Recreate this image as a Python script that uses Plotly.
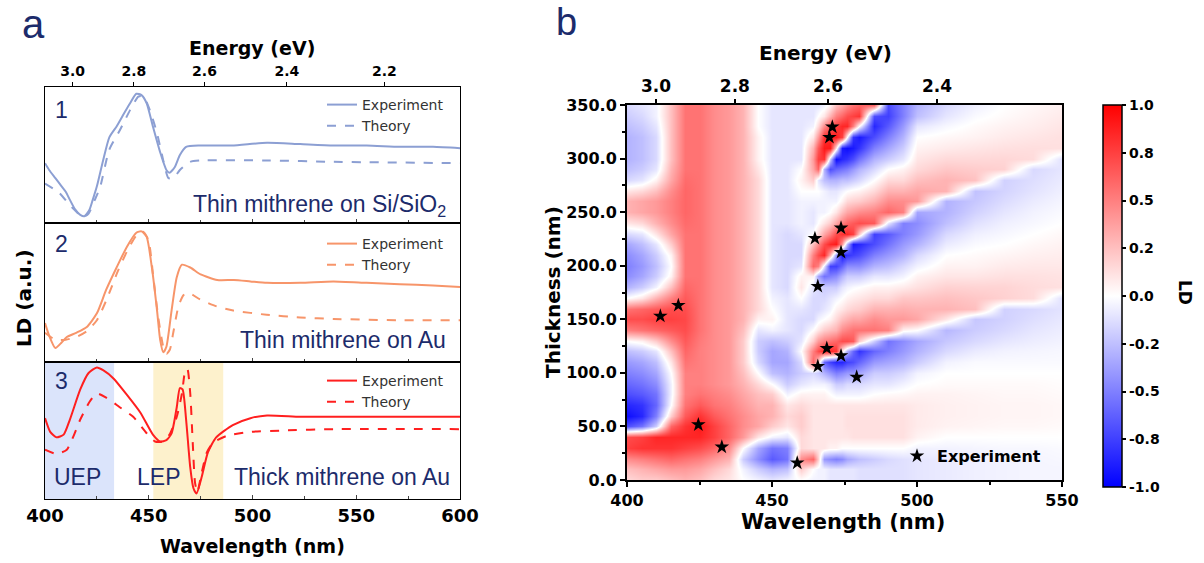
import plotly.graph_objects as go

W, H = 1204, 563
def fx(px):
    return px / W
def fy(py):
    return 1 - py / H

NAVY = '#1c2b6b'
C1, C2, C3 = '#8c9fd3', '#f7956a', '#ff1f1f'

# ---------------- Panel a data (LD in arbitrary units, 0-100 per panel) ----------------
wl_exp1 = [400, 402, 405, 408, 410, 412, 414.5, 417, 419, 421.5, 423, 425, 428, 431, 434.5, 437.5, 441, 444,
           446.5, 449, 452, 455.5, 458.5, 460, 462.5, 465, 468, 475, 490, 507, 523, 539, 555, 571, 587, 600]
ld_exp1 = [44, 39, 33, 27, 23, 17, 10, 6, 5, 10, 17, 27, 46, 63, 71, 79, 88, 95, 94, 88, 71, 52, 39, 37, 41, 50,
           56, 57, 57, 59, 58, 57, 57, 56, 56, 55]
wl_th1 = [400, 407, 412, 416, 418, 421, 424, 426.5, 431, 436, 441, 445, 447.5, 450.5, 454, 457, 459.5, 462, 465,
          470, 475, 507, 539, 600]
ld_th1 = [29, 22, 13, 7, 4, 7, 17, 26, 54, 68, 83, 93, 93, 83, 66, 46, 33, 33, 39, 45, 46, 46, 45, 44]

wl_exp2 = [400, 402, 405, 408, 410.5, 415, 420, 425, 429.5, 434.5, 439.5, 444, 446.5, 449, 451.5, 454, 455.5, 457,
           458.5, 461, 463.5, 466, 470, 475, 483, 491, 499, 507, 523, 539, 555, 571, 587, 600]
ld_exp2 = [28, 19, 10, 14, 18, 21, 25, 35, 52, 68, 83, 93, 94, 90, 68, 37, 16, 7, 11, 37, 61, 70, 68, 63, 59, 59,
           58, 57, 57, 58, 57, 56, 55, 54]
wl_th2 = [400, 405, 410, 415, 420, 425, 430, 435, 440, 444, 447, 449.8, 452.2, 454.6, 457, 458.6, 460.2, 461.8,
          464.3, 466.7, 469, 474.7, 482.7, 490.7, 506.8, 522.9, 539, 571, 600]
ld_th2 = [21, 16, 16, 18, 22, 30, 46, 65, 81, 91, 94, 88, 61, 32, 11, 6, 9, 21, 40, 48, 50, 45, 40, 37, 34, 32,
          31, 30, 30]

wl_exp3 = [400, 402.5, 405.5, 409, 412, 417, 421, 425, 428, 433, 439.5, 446, 452, 455.5, 458.5, 461, 463.5, 465,
           466.3, 468, 470, 471.5, 473, 475.5, 478.5, 482.5, 490.5, 499, 507, 523, 539, 555, 571, 600]
ld_exp3 = [59, 49, 45, 47, 58, 80, 92, 96, 94, 88, 76, 63, 47, 42, 43, 48, 67, 81, 80, 58, 23, 8, 4, 16, 34, 45,
           54, 59, 61, 60, 60, 60, 60, 60]
wl_th3 = [400, 405.5, 410.5, 417, 421.5, 425, 429.5, 436, 442.5, 449, 453, 457, 460, 463.5, 466, 467.5, 468.6,
          470, 471.2, 472.3, 473.4, 475.5, 478, 481, 487.5, 499, 515, 539, 600]
ld_th3 = [36, 33, 36, 58, 71, 77, 74, 67, 60, 48, 42, 42, 47, 60, 77, 93, 95, 77, 41, 12, 5, 19, 34, 41, 46, 49,
          50, 51, 51]

uep_band = [400, 433.3]
lep_band = [452.2, 485.9]

energy_ticks_a = [3.0, 2.8, 2.6, 2.4, 2.2]

# ---------------- Panel b data ----------------
map_wl = [400, 405, 410, 415, 420, 425, 430, 435, 440, 445, 450, 455, 460, 464, 466, 468, 470, 472, 474, 476,
          478, 480, 485, 490, 495, 500, 510, 520, 530, 540, 550]
map_t = list(range(0, 351, 10))
# LD x100, one list per wavelength column, thickness 0..350 step 10
ld_map = [
    [15, 25, 45, 75, 70, -70, -95, -85, -70, -60, -50, -40, -25, 0, 50, 70, 55, 0, -30, -45, -50, -45, -35, -15, 10, 30, 30, 10, -15, -25, -30, -30, -30, -25, -20, -15],
    [20, 30, 50, 80, 75, -55, -85, -80, -65, -55, -45, -35, -20, 5, 55, 70, 60, 10, -20, -35, -40, -35, -25, -10, 15, 35, 35, 15, -10, -20, -25, -25, -25, -20, -15, -10],
    [20, 35, 55, 80, 85, -20, -50, -60, -55, -45, -35, -25, -10, 20, 60, 75, 65, 30, -5, -20, -25, -20, -10, 10, 30, 40, 40, 25, 5, -10, -15, -15, -15, -10, -5, -5],
    [25, 40, 60, 80, 85, 60, 20, 0, -5, -5, 0, 10, 25, 45, 65, 75, 70, 50, 25, 5, 0, 5, 20, 35, 45, 50, 50, 45, 35, 30, 25, 25, 25, 25, 25, 25],
    [30, 40, 55, 75, 85, 80, 65, 55, 50, 50, 50, 55, 60, 65, 70, 72, 70, 65, 60, 55, 55, 55, 55, 55, 58, 60, 60, 60, 58, 55, 55, 55, 55, 55, 55, 55],
    [25, 35, 50, 70, 85, 90, 80, 65, 55, 50, 50, 50, 50, 52, 55, 55, 55, 55, 55, 55, 55, 55, 55, 55, 55, 55, 55, 55, 55, 55, 55, 55, 55, 55, 55, 55],
    [15, 25, 40, 60, 75, 75, 65, 55, 50, 45, 45, 45, 45, 45, 45, 45, 45, 45, 45, 45, 45, 45, 45, 45, 45, 45, 45, 45, 45, 45, 45, 45, 45, 45, 45, 45],
    [10, 15, 30, 45, 60, 60, 55, 50, 45, 40, 40, 40, 40, 40, 40, 40, 40, 40, 40, 40, 40, 40, 40, 40, 40, 40, 40, 40, 40, 40, 40, 40, 40, 40, 40, 40],
    [0, -5, -20, 0, 40, 45, 45, 40, 35, 30, 25, 20, 20, 20, 25, 30, 30, 30, 30, 30, 30, 30, 30, 30, 30, 30, 30, 30, 30, 30, 30, 30, 30, 30, 30, 30],
    [-5, -20, -45, -35, 10, 35, 35, 30, 25, 15, 0, -15, -20, -20, -10, 5, 15, 15, 15, 15, 15, 15, 15, 15, 15, 15, 15, 15, 15, 10, 5, 5, 5, 0, 0, 0],
    [-10, -30, -65, -55, -5, 20, 30, 30, 20, 0, -25, -35, -35, -25, -5, 5, 0, -5, -10, -10, -10, -10, -10, -10, -10, -10, -10, -10, -10, -10, -10, -10, -10, -10, -10, -10],
    [-5, -25, -55, -50, -10, 10, 15, 10, -5, -20, -30, -35, -30, -20, -10, -10, -10, -10, -15, -15, -15, -15, -15, -15, -10, -10, -10, -10, -10, -10, -10, -10, -10, -10, -10, -10],
    [0, 20, 45, 15, 15, 20, 20, 15, 5, -10, -20, -15, 0, -10, -15, -15, -10, 0, 10, 5, -10, -15, -15, -10, -5, -5, -5, 0, 5, 0, -10, -10, -10, -10, -10, -10],
    [-5, 0, 60, 10, 10, 10, 10, 10, 5, -5, -15, 60, 50, 20, 0, -15, -15, -15, -10, 5, 60, 50, 25, 0, -10, -10, -5, 0, 20, 35, 40, 30, 10, -5, -10, -10],
    [-5, -5, 20, 10, 10, 10, 10, 10, 5, -5, -20, 20, 70, 40, 10, -5, -15, -15, -15, -35, 50, 70, 45, 15, 0, -5, -5, 0, -10, 60, 75, 65, 40, 15, 0, -10],
    [-5, -5, -40, 10, 10, 10, 10, 10, 5, -5, -30, -60, 85, 50, 20, 0, -10, -15, -20, -55, -10, 85, 70, 35, 10, -5, -5, -5, -25, -30, 80, 90, 80, 45, 10, -5],
    [-10, -10, -45, 5, 10, 10, 10, 10, 0, -10, -40, -75, 85, 55, 25, 5, -5, -10, -20, -50, -75, 30, 85, 50, 20, 0, -5, -10, -30, -70, -20, 90, 85, 65, 30, 5],
    [-10, -10, -50, 5, 10, 10, 10, 10, -5, -20, -50, -85, 80, 60, 30, 15, 5, -5, -20, -45, -75, -40, 90, 70, 35, 10, -5, -10, -30, -60, -95, 10, 90, 75, 50, 25],
    [-10, -10, -45, 0, 10, 10, 10, 10, -5, -20, -45, -85, 10, 70, 45, 25, 10, 0, -10, -30, -60, -90, 40, 80, 50, 25, 5, -5, -25, -55, -85, -90, 75, 85, 60, 35],
    [-10, -10, -35, 0, 10, 12, 12, 10, -5, -15, -40, -75, -30, 70, 50, 30, 15, 5, -5, -20, -45, -80, -30, 85, 60, 35, 15, 0, -25, -50, -80, -95, 0, 85, 70, 45],
    [-10, -10, -30, 0, 12, 12, 12, 10, -5, -15, -40, -70, -60, 65, 55, 35, 18, 8, -2, -20, -45, -75, -90, 75, 65, 40, 18, 3, -20, -40, -70, -90, -80, 50, 75, 55],
    [-12, -12, -25, 0, 12, 12, 12, 10, -5, -15, -35, -60, -80, 20, 55, 35, 20, 10, 0, -20, -45, -70, -85, 20, 70, 45, 20, 5, -15, -30, -55, -80, -90, 0, 80, 60],
    [-12, -12, -20, 0, 12, 12, 12, 10, 0, -10, -20, -40, -60, -20, 55, 45, 30, 15, 5, -10, -30, -50, -70, -75, 65, 50, 30, 15, 0, -15, -30, -50, -70, -85, -70, 60],
    [-12, -12, -15, 0, 12, 12, 12, 10, 2, -10, -20, -35, -50, -55, 50, 40, 30, 15, 5, -10, -25, -40, -55, -65, -10, 60, 45, 30, 15, 0, -20, -35, -50, -65, -75, -70],
    [-12, -12, -12, 0, 12, 12, 12, 10, 3, -5, -15, -30, -40, -45, 5, 40, 32, 22, 8, -5, -15, -30, -40, -50, -50, 50, 45, 30, 15, 5, -10, -20, -30, -40, -50, -50],
    [-10, -10, -10, -5, 5, 8, 8, 8, 5, 0, -5, -20, -30, -35, 0, 35, 30, 22, 12, 5, -5, -15, -30, -40, -45, -35, 40, 35, 25, 15, 10, 5, 0, -10, -25, -30],
    [-8, -8, -8, -5, 0, 5, 6, 6, 5, 2, 0, -5, -15, -22, -28, 10, 30, 25, 18, 10, 5, 0, -8, -15, -25, -30, -30, 30, 30, 22, 15, 8, 3, -3, -10, -15],
    [-6, -6, -6, -4, 0, 4, 5, 5, 4, 2, 0, -2, -8, -15, -20, -22, 25, 22, 17, 10, 5, 2, -2, -6, -12, -18, -22, -24, 24, 20, 15, 10, 5, 2, -2, -6],
    [-5, -5, -5, -3, 0, 3, 4, 4, 3, 2, 0, -2, -5, -10, -15, -18, -18, 18, 17, 12, 8, 4, 0, -3, -6, -10, -14, -17, -18, 18, 16, 12, 8, 5, 2, 0],
    [-4, -4, -4, -3, 0, 3, 4, 4, 3, 2, 0, -2, -4, -7, -10, -13, -15, 14, 14, 12, 9, 6, 3, 0, -3, -5, -8, -11, -13, -15, 14, 13, 10, 7, 5, 3],
    [-4, -4, -3, -2, 0, 2, 3, 3, 2, 1, 0, -2, -3, -5, -7, -9, -11, -12, 12, 11, 9, 7, 5, 3, 0, -2, -4, -6, -8, -10, -12, 12, 12, 10, 8, 6],
]
assert len(ld_map) == len(map_wl)
for col in ld_map:
    assert len(col) == len(map_t), len(col)

star_wl = [411.5, 417.7, 424.6, 432.7, 458.7, 464.8, 465.8, 465.8, 468.9, 469.8, 470.8, 473.8, 473.8, 473.8, 479.2]
star_t = [153, 163, 51.6, 30.8, 15.9, 225.5, 180.8, 106.1, 122.9, 319.8, 329.5, 235.2, 212.5, 116, 96.1]

energy_labels_b = ['3.0', '2.8', '2.6', '2.4']
energy_wl_b = [410, 437.2, 469.3, 506.9]

cbar_vals = [-1, -0.75, -0.5, -0.25, 0, 0.25, 0.5, 0.75, 1]
cbar_text = ['-1.0', '-0.8', '-0.5', '-0.2', '0.0', '0.2', '0.5', '0.8', '1.0']

# ---------------- Figure ----------------
fig = go.Figure()

def line_pair(wx, wy, tx, ty, color, xa, ya, leg):
    fig.add_trace(go.Scatter(x=wx, y=wy, mode='lines', name='Experiment', xaxis=xa, yaxis=ya, legend=leg,
                             legendgroup=leg + 'e',
                             line=dict(color=color, width=2, shape='spline', smoothing=0.6)))
    fig.add_trace(go.Scatter(x=tx, y=ty, mode='lines', name='Theory', xaxis=xa, yaxis=ya, legend=leg,
                             legendgroup=leg + 't',
                             line=dict(color=color, width=2, dash='dash', shape='spline', smoothing=0.6)))

line_pair(wl_exp1, ld_exp1, wl_th1, ld_th1, C1, 'x', 'y', 'legend')
line_pair(wl_exp2, ld_exp2, wl_th2, ld_th2, C2, 'x2', 'y2', 'legend2')
line_pair(wl_exp3, ld_exp3, wl_th3, ld_th3, C3, 'x3', 'y3', 'legend3')

# empty carriers so the top energy axes are drawn
e_wl_a = [1239.84 / e for e in energy_ticks_a]
fig.add_trace(go.Scatter(x=e_wl_a, y=[None] * len(e_wl_a), mode='markers', xaxis='x4', yaxis='y',
                         showlegend=False, hoverinfo='skip'))
fig.add_trace(go.Scatter(x=energy_wl_b, y=[None] * len(energy_wl_b), mode='markers', xaxis='x6', yaxis='y5',
                         showlegend=False, hoverinfo='skip'))

fig.add_trace(go.Heatmap(
    x=map_wl, y=map_t, z=[[v / 100 for v in col] for col in ld_map], transpose=True, zsmooth='best',
    colorscale=[[0, '#0000ff'], [0.5, '#ffffff'], [1, '#ff0000']], zmin=-1, zmax=1,
    xaxis='x5', yaxis='y5', showlegend=False,
    colorbar=dict(x=fx(1103), xanchor='left', y=fy(296), yanchor='middle', len=(487 - 105) / H,
                  lenmode='fraction', thickness=19, thicknessmode='pixels', xpad=0, ypad=0,
                  outlinecolor='black', outlinewidth=1.5, tickvals=cbar_vals, ticktext=cbar_text,
                  ticks='outside', ticklen=4, tickwidth=1.5, tickcolor='black',
                  tickfont=dict(family='DejaVu Sans', size=14, color='black', weight='bold'))))

fig.add_trace(go.Scatter(x=star_wl, y=star_t, mode='markers', name='Experiment', xaxis='x5', yaxis='y5',
                         legend='legend4', marker=dict(symbol='star', size=11, color='black')))

xa0, xa1 = fx(45), fx(460)
ya = [(fy(223), fy(87)), (fy(362), fy(223)), (fy(499), fy(362))]
xb0, xb1 = fx(627), fx(1062)
yb0, yb1 = fy(480), fy(105)

base_ax = dict(showline=True, linecolor='black', linewidth=1.5, mirror=True, showgrid=False, zeroline=False,
               automargin=False)
a_x = dict(base_ax, linewidth=1.3, range=[400, 600], tickvals=[400, 450, 500, 550, 600], ticks='inside',
           ticklen=4, tickcolor='#444',
           minor=dict(dtick=25, tick0=400, ticks='inside', ticklen=3, tickcolor='#444'))
a_y = dict(base_ax, linewidth=1.3, range=[0, 100], showticklabels=False, ticks='')

tickfont_a = dict(family='DejaVu Sans', size=18, color='black', weight='bold')
fig.update_layout(
    width=W, height=H, margin=dict(l=0, r=0, t=0, b=0, autoexpand=False),
    paper_bgcolor='white', plot_bgcolor='white', showlegend=True,
    xaxis=dict(a_x, domain=[xa0, xa1], anchor='y', showticklabels=False),
    yaxis=dict(a_y, domain=list(ya[0]), anchor='x'),
    xaxis2=dict(a_x, domain=[xa0, xa1], anchor='y2', showticklabels=False),
    yaxis2=dict(a_y, domain=list(ya[1]), anchor='x2'),
    xaxis3=dict(a_x, domain=[xa0, xa1], anchor='y3', showticklabels=True, tickfont=tickfont_a),
    yaxis3=dict(a_y, domain=list(ya[2]), anchor='x3'),
    xaxis4=dict(overlaying='x', anchor='y', side='top', range=[400, 600], automargin=False,
                tickvals=e_wl_a, ticktext=['%.1f' % e for e in energy_ticks_a],
                ticks='outside', ticklen=4, tickcolor='black', showgrid=False, zeroline=False, showline=False,
                tickfont=dict(family='DejaVu Sans', size=14, color='black', weight='bold')),
    xaxis5=dict(base_ax, linewidth=2, domain=[xb0, xb1], anchor='y5', range=[400, 550],
                tickvals=[400, 450, 500, 550], ticks='outside', ticklen=5, tickwidth=1.5, tickcolor='black',
                minor=dict(dtick=25, tick0=400, ticks='outside', ticklen=3, tickcolor='black'),
                tickfont=dict(family='DejaVu Sans', size=16, color='black', weight='bold')),
    yaxis5=dict(base_ax, linewidth=2, domain=[yb0, yb1], anchor='x5', range=[0, 350],
                tickvals=list(range(0, 351, 50)), tickformat='.1f', ticks='outside', ticklen=5,
                tickwidth=1.5, tickcolor='black',
                minor=dict(dtick=25, tick0=0, ticks='outside', ticklen=3, tickcolor='black'),
                tickfont=dict(family='DejaVu Sans', size=16, color='black', weight='bold')),
    xaxis6=dict(overlaying='x5', anchor='y5', side='top', range=[400, 550], tickvals=energy_wl_b,
                ticktext=energy_labels_b, ticks='outside', ticklen=5, tickwidth=1.5, tickcolor='black',
                showgrid=False, zeroline=False, showline=False, automargin=False,
                tickfont=dict(family='DejaVu Sans', size=17, color='black', weight='bold')),
)

leg_common = dict(bgcolor='rgba(0,0,0,0)', font=dict(family='DejaVu Sans', size=14, color='#333'),
                  xanchor='left', yanchor='top', tracegroupgap=0, itemwidth=30)
fig.update_layout(
    legend=dict(leg_common, x=fx(322), y=fy(89)),
    legend2=dict(leg_common, x=fx(322), y=fy(228)),
    legend3=dict(leg_common, x=fx(322), y=fy(365)),
    legend4=dict(bgcolor='rgba(0,0,0,0)', font=dict(family='DejaVu Sans', size=16, color='black', weight='bold'),
                 xanchor='left', yanchor='middle', x=fx(897), y=fy(456), itemwidth=30),
)

ann = []
def text(x, y, s, size, color='black', family='DejaVu Sans', bold=False, angle=0, xanchor='center'):
    ann.append(dict(x=fx(x), y=fy(y), xref='paper', yref='paper', text=s, showarrow=False, textangle=angle,
                    xanchor=xanchor, yanchor='middle',
                    font=dict(family=family, size=size, color=color, weight='bold' if bold else 'normal')))

text(33, 24, 'a', 40, NAVY, 'Liberation Sans')
text(566, 22, 'b', 38, NAVY, 'Liberation Sans')
text(252, 48, 'Energy (eV)', 19, bold=True)
text(825, 53, 'Energy (eV)', 20, bold=True)
text(252, 546, 'Wavelength (nm)', 19, bold=True)
text(843, 522, 'Wavelength (nm)', 21, bold=True)
text(24, 298, 'LD (a.u.)', 20, bold=True, angle=-90)
text(553, 292, 'Thickness (nm)', 20, bold=True, angle=-90)
text(1185, 292, 'LD', 17, bold=True, angle=90)
text(61, 110, '1', 23, NAVY, 'Liberation Sans')
text(61, 244, '2', 23, NAVY, 'Liberation Sans')
text(61, 381, '3', 23, NAVY, 'Liberation Sans')
text(448, 205, 'Thin mithrene on Si/SiO<sub>2</sub>', 23, NAVY, 'Liberation Sans', xanchor='right')
text(448, 340, 'Thin mithrene on Au', 23, NAVY, 'Liberation Sans', xanchor='right')
text(452, 477, 'Thick mithrene on Au', 23, NAVY, 'Liberation Sans', xanchor='right')
text(77, 477, 'UEP', 23, NAVY, 'Liberation Sans')
text(158, 477, 'LEP', 23, NAVY, 'Liberation Sans')
fig.update_layout(annotations=ann)

fig.update_layout(shapes=[
    dict(type='rect', xref='x3', yref='y3 domain', x0=uep_band[0], x1=uep_band[1], y0=0, y1=1,
         fillcolor='#dbe4fb', line=dict(width=0), layer='below'),
    dict(type='rect', xref='x3', yref='y3 domain', x0=lep_band[0], x1=lep_band[1], y0=0, y1=1,
         fillcolor='#fdf1cc', line=dict(width=0), layer='below'),
])

fig.write_html('out.html')
